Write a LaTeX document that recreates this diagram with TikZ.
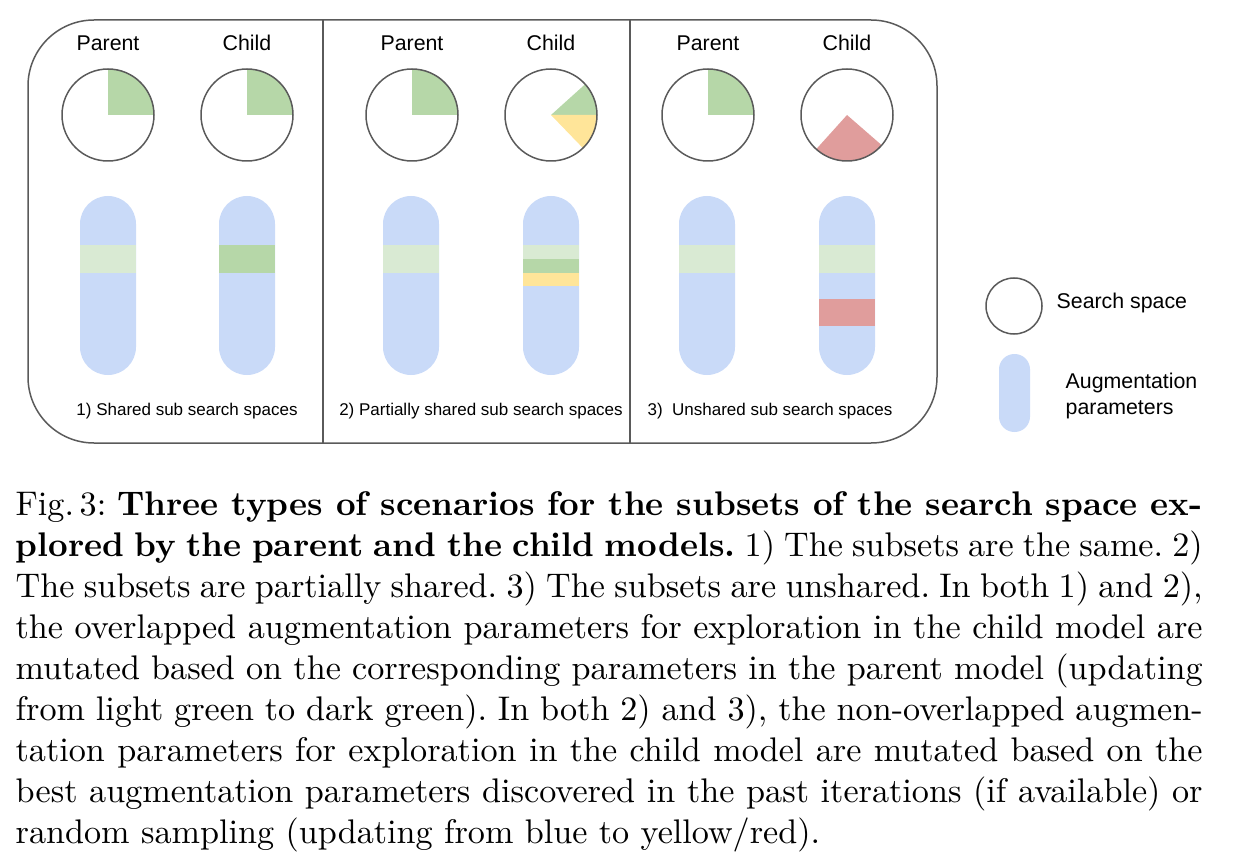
\documentclass[tikz,border=0pt]{standalone}
\usepackage{fontspec}
\newfontfamily\arial{Liberation Sans}
\definecolor{lgreen}{HTML}{D9EAD3}
\definecolor{dgreen}{HTML}{B6D7A8}
\definecolor{pillblue}{HTML}{C9DAF8}
\definecolor{pyellow}{HTML}{FFE599}
\definecolor{pred}{HTML}{E09D9C}
\definecolor{linegray}{HTML}{5A5A5A}
\tikzset{
  frame/.style={draw=linegray, line width=0.45pt},
  space/.style={draw=linegray, line width=0.45pt, fill=none},
  pill/.style={fill=pillblue, draw=none, rounded corners=8.4pt},
  head/.style={font=\arial\fontsize{6.4}{7.5}\selectfont, inner sep=0pt},
  sub/.style={font=\arial\fontsize{5.1}{6}\selectfont, inner sep=0pt},
  legend/.style={font=\arial\fontsize{6.4}{7.6}\selectfont, inner sep=0pt, align=left},
}
\begin{document}
\begin{tikzpicture}[x=0.3pt, y=0.3pt]
\useasboundingbox (0,0) rectangle (1235,-858);
% frame
\draw[frame, rounded corners=19.8pt] (28,-20) rectangle (937,-443);
\coordinate (d1t) at (323,-20); \coordinate (d1b) at (323,-443);
\coordinate (d2t) at (630,-20); \coordinate (d2b) at (630,-443);
\draw[frame] (d1t) -- (d1b);
\draw[frame] (d2t) -- (d2b);
% centres
\foreach \n/\x in {p1/108, c1/247, p2/412, c2/551, p3/708, c3/847}{
  \coordinate (\n) at (\x,-115);
}
% sectors
\foreach \n in {p1,c1,p2,p3}{
  \fill[dgreen] (\n) -- ++(0:46) arc[start angle=0, end angle=90, radius=46] -- cycle;
}
\fill[dgreen] (c2) -- ++(0:46) arc[start angle=0, end angle=42, radius=46] -- cycle;
\fill[pyellow] (c2) -- ++(-46:46) arc[start angle=-46, end angle=0, radius=46] -- cycle;
\fill[pred] (c3) -- ++(-132:46) arc[start angle=-132, end angle=-41, radius=46] -- cycle;
\foreach \n in {p1,c1,p2,c2,p3,c3}{
  \node[space, circle, minimum size=27.6pt, inner sep=0pt] (s\n) at (\n) {};
}
% heads
\foreach \n/\x in {p1/108, p2/412, p3/708}{
  \node[head] (h\n) at (\x,-43) {Parent};
}
\foreach \n/\x in {c1/247, c2/551, c3/847}{
  \node[head] (h\n) at (\x,-43) {Child};
}
% pills
\foreach \n/\x in {p1/108, c1/247, p2/411, c2/551, p3/707, c3/847}{
  \fill[pill] (\x-28,-196) rectangle (\x+28,-375);
  \coordinate (b\n) at (\x,-259);
}
\fill[lgreen] (80,-245) rectangle (136,-273);
\fill[dgreen] (219,-245) rectangle (275,-273);
\fill[lgreen] (383,-245) rectangle (439,-273);
\fill[lgreen] (523,-245) rectangle (579,-259);
\fill[dgreen] (523,-259) rectangle (579,-273);
\fill[pyellow] (523,-273) rectangle (579,-286);
\fill[lgreen] (679,-245) rectangle (735,-273);
\fill[lgreen] (819,-245) rectangle (875,-273);
\fill[pred] (819,-299) rectangle (875,-326);
% sub labels
\node[sub] (l1) at (187,-411) {1) Shared sub search spaces};
\node[sub] (l2) at (481,-411) {2) Partially shared sub search spaces};
\node[sub] (l3) at (770,-411) {3)\ \ Unshared sub search spaces};
% legend
\node[space, circle, minimum size=16.8pt, inner sep=0pt] (lc) at (1014,-306) {};
\node[legend, anchor=west] (lct) at (1056,-303) {Search space};
\fill[pill, rounded corners=4.6pt] (999,-354) rectangle (1030,-432);
\coordinate (lp) at (1014,-393);
\node[legend, anchor=west] (lpt) at (1065,-396) {Augmentation\\parameters};
% caption
\node[anchor=base west, inner sep=0pt, text width=356.1pt, align=justify,
      font=\fontsize{10.25}{12.3}\selectfont\frenchspacing] (cap) at (15,-515.3) {%
Fig.\,3: \textbf{Three types of scenarios for the subsets of the search space ex-\linebreak
plored by the parent and the child models.} 1) The subsets are the same. 2)\linebreak
The subsets are partially shared. 3) The subsets are unshared. In both 1) and 2),\linebreak
the overlapped augmentation parameters for exploration in the child model are\linebreak
mutated based on the corresponding parameters in the parent model (updating\linebreak
from light green to dark green). In both 2) and 3), the non-overlapped augmen-\linebreak
tation parameters for exploration in the child model are mutated based on the\linebreak
best augmentation parameters discovered in the past iterations (if available) or\linebreak
random sampling (updating from blue to yellow/red).};
\end{tikzpicture}
\end{document}
